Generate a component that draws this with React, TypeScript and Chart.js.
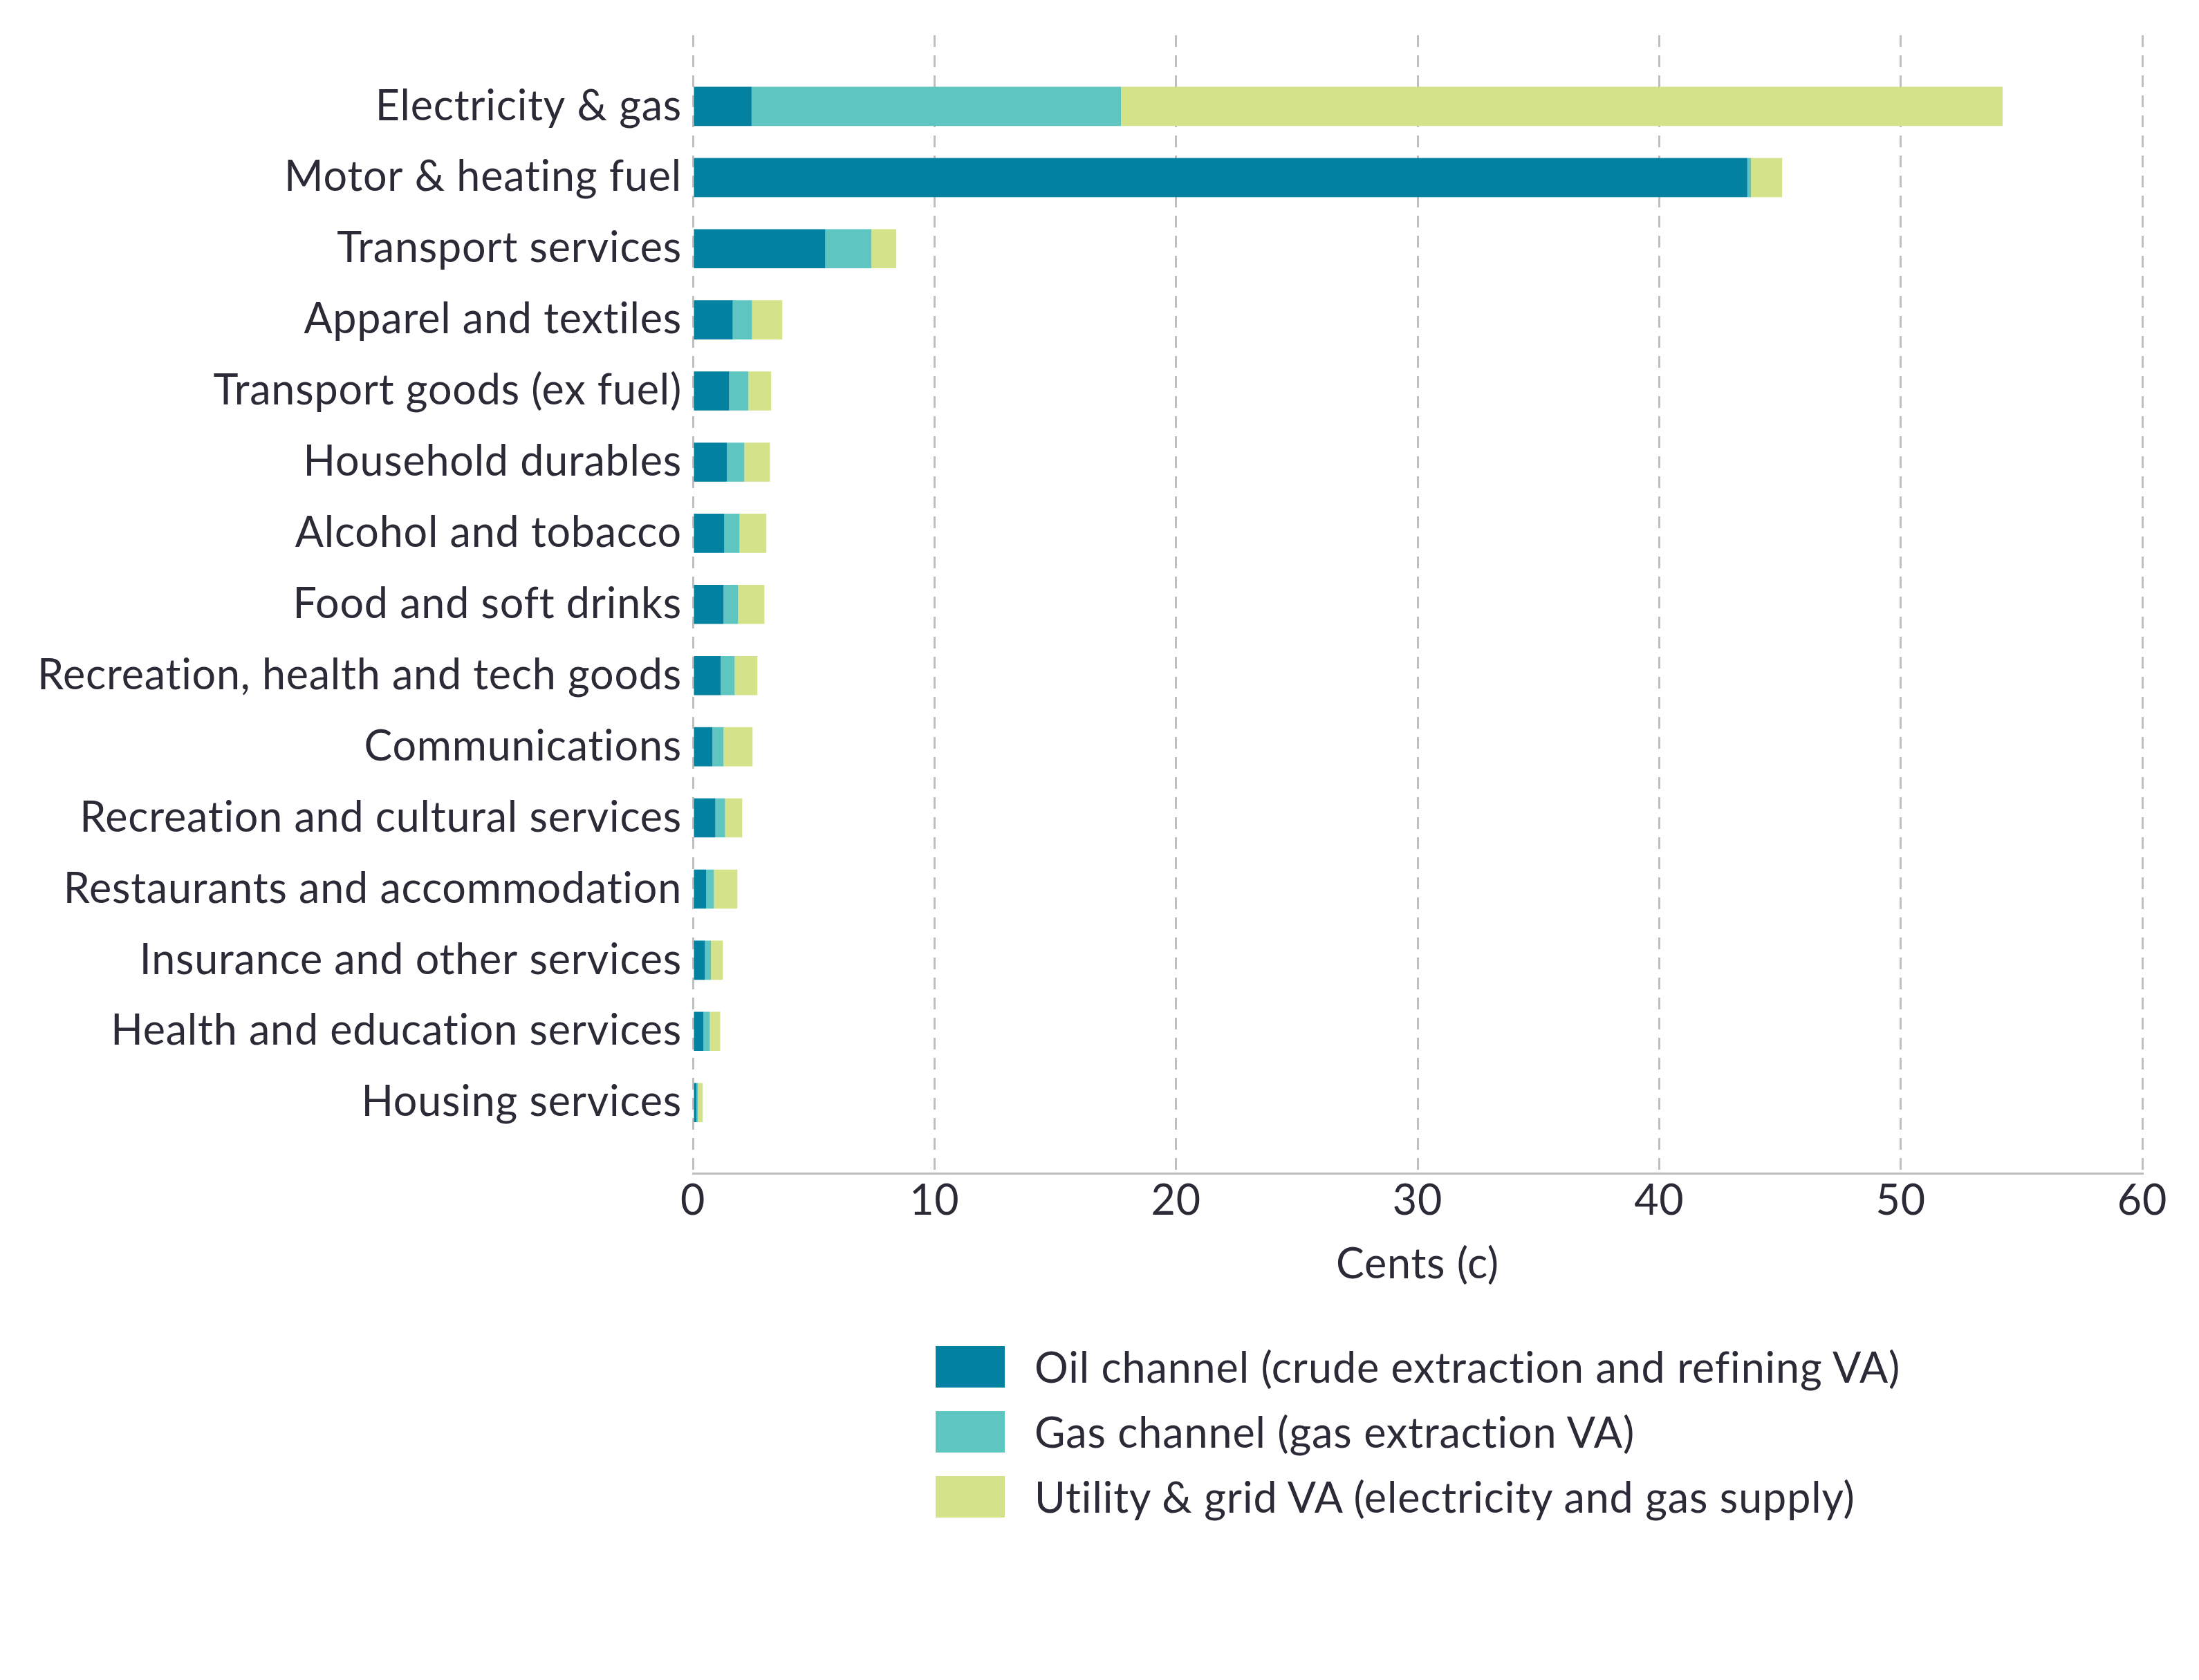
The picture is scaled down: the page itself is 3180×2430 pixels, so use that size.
import React, { useEffect, useRef } from "react";
import { Chart, registerables } from "chart.js";

Chart.register(...registerables);

// Spending categories, top to bottom
const categories: string[] = [
  "Electricity & gas",
  "Motor & heating fuel",
  "Transport services",
  "Apparel and textiles",
  "Transport goods (ex fuel)",
  "Household durables",
  "Alcohol and tobacco",
  "Food and soft drinks",
  "Recreation, health and tech goods",
  "Communications",
  "Recreation and cultural services",
  "Restaurants and accommodation",
  "Insurance and other services",
  "Health and education services",
  "Housing services",
];

// Contribution of each channel, in cents
const oilChannel: number[] = [2.43, 43.65, 5.48, 1.65, 1.5, 1.41, 1.3, 1.27, 1.15, 0.81, 0.93, 0.55, 0.5, 0.44, 0.15];
const gasChannel: number[] = [15.29, 0.15, 1.91, 0.8, 0.8, 0.72, 0.63, 0.6, 0.58, 0.46, 0.4, 0.32, 0.25, 0.26, 0.06];
const utilityGrid: number[] = [36.5, 1.29, 1.03, 1.25, 0.94, 1.06, 1.11, 1.09, 0.94, 1.2, 0.71, 0.97, 0.49, 0.43, 0.2];

const seriesNames: string[] = [
  "Oil channel (crude extraction and refining VA)",
  "Gas channel (gas extraction VA)",
  "Utility & grid VA (electricity and gas supply)",
];
const seriesColors: string[] = ["#0282A0", "#5EC5C1", "#D4E38A"];

const xTicks: number[] = [0, 10, 20, 30, 40, 50, 60];
const xTitle = "Cents (c)";

const FONT = "Lato, 'Open Sans', sans-serif";
const FONT_SIZE = 61;
const LETTER_SPACING = "0.8px";
const TEXT = "#2b2b38";
const GRID = "#bfbfbf";

// Blank slots above and below keep a full row of space at each end
const padRow = <T,>(arr: T[], fill: T): T[] => [fill, ...arr, fill];

// Slightly open tracking for all canvas text
const letterSpacingPlugin = {
  id: "letterSpacing",
  beforeLayout(chart: any) {
    chart.ctx.letterSpacing = LETTER_SPACING;
  },
  beforeDraw(chart: any) {
    chart.ctx.letterSpacing = LETTER_SPACING;
  },
};

export default function App() {
  const canvasRef = useRef<HTMLCanvasElement | null>(null);

  useEffect(() => {
    const canvas = canvasRef.current;
    if (!canvas) return;
    const series = [oilChannel, gasChannel, utilityGrid];
    const chart = new Chart(canvas, {
      type: "bar",
      data: {
        labels: padRow(categories, ""),
        datasets: series.map((vals, i) => ({
          label: seriesNames[i],
          data: padRow<number | null>(vals, null),
          backgroundColor: seriesColors[i],
          borderWidth: 0,
          categoryPercentage: 1,
          barPercentage: 0.55,
        })),
      },
      plugins: [letterSpacingPlugin],
      options: {
        indexAxis: "y",
        responsive: false,
        animation: false,
        devicePixelRatio: 1,
        layout: { padding: { top: 43, right: 74, bottom: 18, left: 0 } },
        plugins: {
          legend: { display: false },
          tooltip: { enabled: false },
        },
        scales: {
          x: {
            type: "linear",
            stacked: true,
            min: 0,
            max: 60,
            afterBuildTicks: (scale: any) => {
              scale.ticks = xTicks.map((v) => ({ value: v }));
            },
            grid: {
              color: GRID,
              lineWidth: 3,
              drawTicks: false,
            },
            border: { display: true, color: "#bdbdbd", width: 3, dash: [17, 12] },
            ticks: {
              color: TEXT,
              padding: 3,
              font: { family: FONT, size: FONT_SIZE },
            },
            title: {
              display: true,
              text: xTitle,
              color: TEXT,
              font: { family: FONT, size: FONT_SIZE },
              padding: { top: 16, bottom: 4 },
            },
          },
          y: {
            type: "category",
            stacked: true,
            offset: false,
            grid: { display: false, drawTicks: false },
            border: { display: false },
            afterFit: (scale: any) => {
              scale.width = 994;
              scale.paddingTop = 0;
              scale.paddingBottom = 0;
            },
            ticks: {
              color: TEXT,
              padding: 16,
              autoSkip: false,
              font: { family: FONT, size: FONT_SIZE },
            },
          },
        },
      },
    });
    return () => chart.destroy();
  }, []);

  return (
    <div style={{ position: "relative", width: 3164, height: 2414 }}>
      <canvas ref={canvasRef} width={3164} height={1880} style={{ display: "block" }} />
      <div
        style={{
          position: "absolute",
          left: 1345,
          top: 1939,
          fontFamily: FONT,
          color: TEXT,
          letterSpacing: "0.9px",
          fontVariantLigatures: "none",
        }}
      >
        {seriesNames.map((name, i) => (
          <div key={name} style={{ display: "flex", alignItems: "center", height: 60, marginBottom: 34 }}>
            <div style={{ width: 100, height: 60, background: seriesColors[i], flex: "none" }} />
            <div style={{ marginLeft: 43, fontSize: FONT_SIZE, lineHeight: "60px", whiteSpace: "nowrap" }}>{name}</div>
          </div>
        ))}
      </div>
    </div>
  );
}
